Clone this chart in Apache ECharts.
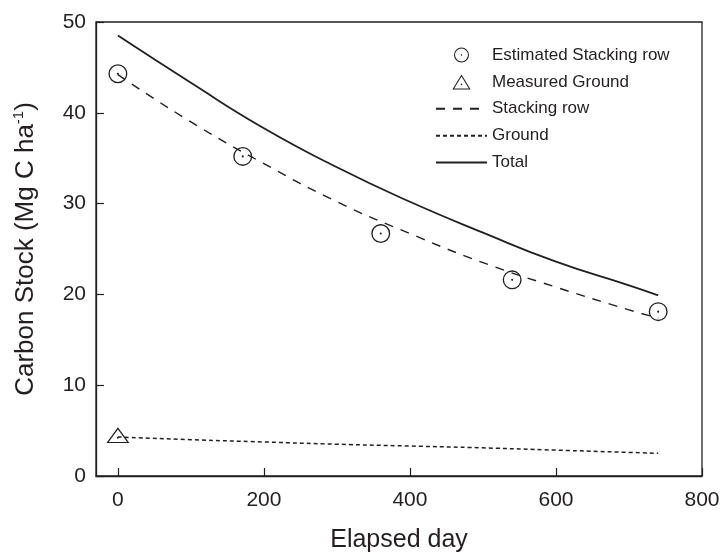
<!DOCTYPE html>
<html>
<head>
<meta charset="utf-8">
<script src="https://cdn.jsdelivr.net/npm/echarts@6/dist/echarts.min.js"></script>
<style>
  html, body { margin: 0; padding: 0; background: #fff; }
  #main { width: 725px; height: 553px; }
</style>
</head>
<body>
<div id="main"></div>
<script>
// elapsed days (x) for the fitted curves
const days = [0, 100, 200, 300, 400, 500, 600, 700, 740];
// fitted curves, Mg C ha-1
const stackingRow = [44.2, 39.0, 34.4, 30.2, 26.7, 23.5, 20.8, 18.3, 17.4];
const ground = [4.3, 4.0, 3.75, 3.5, 3.3, 3.1, 2.85, 2.6, 2.5];
const total = [48.5, 43.3, 38.3, 34.0, 30.2, 26.8, 23.6, 21.0, 19.9];
// observations
const estDays = [0, 171, 360, 540, 740];
const estStacking = [44.3, 35.2, 26.7, 21.6, 18.1];
const measDays = [0];
const measGround = [4.5];
// axis tick labels
const xTicks = [0, 200, 400, 600, 800];

const ink = '#231f20';
const font = "'Liberation Sans', Arial, sans-serif";

const pairs = function (xs, ys) {
	return xs.map(function (x, i) { return [x, ys[i]]; });
};

// hollow circle with centre dot, hollow triangle with centre dot
const ringDot = 'path://M0,-10A10,10 0 1,1 0,10A10,10 0 1,1 0,-10Z' +
	'M0,-8.6A8.6,8.6 0 1,0 0,8.6A8.6,8.6 0 1,0 0,-8.6Z' +
	'M0,-1.1A1.1,1.1 0 1,1 0,1.1A1.1,1.1 0 1,1 0,-1.1Z';
const triDot = 'path://M11,0L22,18L0,18Z' +
	'M11,2.6L2.2,16.9L19.8,16.9Z' +
	'M11,10.9A1,1 0 1,1 11,12.9A1,1 0 1,1 11,10.9Z';

// line items in the legend: line only, no marker
const lineItem = function (name) {
	return { name: name, itemStyle: { opacity: 0 } };
};

const chart = echarts.init(document.getElementById('main'));
chart.setOption({
	animation: false,
	backgroundColor: '#fff',
	textStyle: { fontFamily: font, color: ink },
	grid: {
		left: 96, right: 23, top: 22, bottom: 77,
		outerBoundsMode: 'none',
		containLabel: false,
		show: true, borderColor: ink, borderWidth: 1.3
	},
	legend: {
		orient: 'vertical',
		left: 435,
		top: 45,
		padding: 0,
		itemWidth: 51,
		itemHeight: 15,
		itemGap: 6.9,
		textStyle: { fontSize: 17, color: ink, lineHeight: 20, fontFamily: font },
		data: ['Estimated Stacking row', 'Measured Ground',
			lineItem('Stacking row'), lineItem('Ground'), lineItem('Total')]
	},
	xAxis: {
		type: 'value',
		min: -30,
		max: 800,
		name: 'Elapsed day',
		nameLocation: 'middle',
		nameGap: 52,
		nameTextStyle: { fontSize: 25, color: ink },
		axisLine: { onZero: false, lineStyle: { color: ink, width: 1.3 } },
		axisTick: { inside: true, length: 8, lineStyle: { color: ink, width: 1.2 }, customValues: xTicks },
		axisLabel: { fontSize: 21, color: ink, margin: 14, customValues: xTicks },
		splitLine: { show: false }
	},
	yAxis: {
		type: 'value',
		min: 0,
		max: 50,
		interval: 10,
		name: '{a|Carbon Stock (Mg C ha}{s|-1}{a|)}',
		nameLocation: 'middle',
		nameGap: 56,
		nameTextStyle: {
			color: ink,
			rich: {
				a: { fontSize: 26, lineHeight: 29, color: ink, fontFamily: font },
				s: { fontSize: 15, lineHeight: 29, verticalAlign: 'top', color: ink, fontFamily: font }
			}
		},
		axisLine: { onZero: false, lineStyle: { color: ink, width: 1.3 } },
		axisTick: { inside: true, length: 8, lineStyle: { color: ink, width: 1.2 } },
		axisLabel: { fontSize: 21, color: ink, margin: 10 },
		splitLine: { show: false }
	},
	series: [{
		name: 'Stacking row',
		type: 'line',
		smooth: true,
		symbol: 'none',
		data: pairs(days, stackingRow),
		lineStyle: { color: ink, width: 1.4, type: [9, 8] },
		itemStyle: { color: ink }
	}, {
		name: 'Ground',
		type: 'line',
		smooth: true,
		symbol: 'none',
		data: pairs(days, ground),
		lineStyle: { color: ink, width: 1.5, type: [4, 3] },
		itemStyle: { color: ink }
	}, {
		name: 'Total',
		type: 'line',
		smooth: true,
		symbol: 'none',
		data: pairs(days, total),
		lineStyle: { color: ink, width: 1.8, type: 'solid' },
		itemStyle: { color: ink }
	}, {
		name: 'Estimated Stacking row',
		type: 'scatter',
		symbol: ringDot,
		symbolSize: 19,
		symbolKeepAspect: true,
		data: pairs(estDays, estStacking),
		itemStyle: { color: ink, borderWidth: 0, opacity: 1 }
	}, {
		name: 'Measured Ground',
		type: 'scatter',
		symbol: triDot,
		symbolSize: [23, 19],
		symbolKeepAspect: true,
		data: pairs(measDays, measGround),
		itemStyle: { color: ink, borderWidth: 0, opacity: 1 }
	}]
});
</script>
</body>
</html>
